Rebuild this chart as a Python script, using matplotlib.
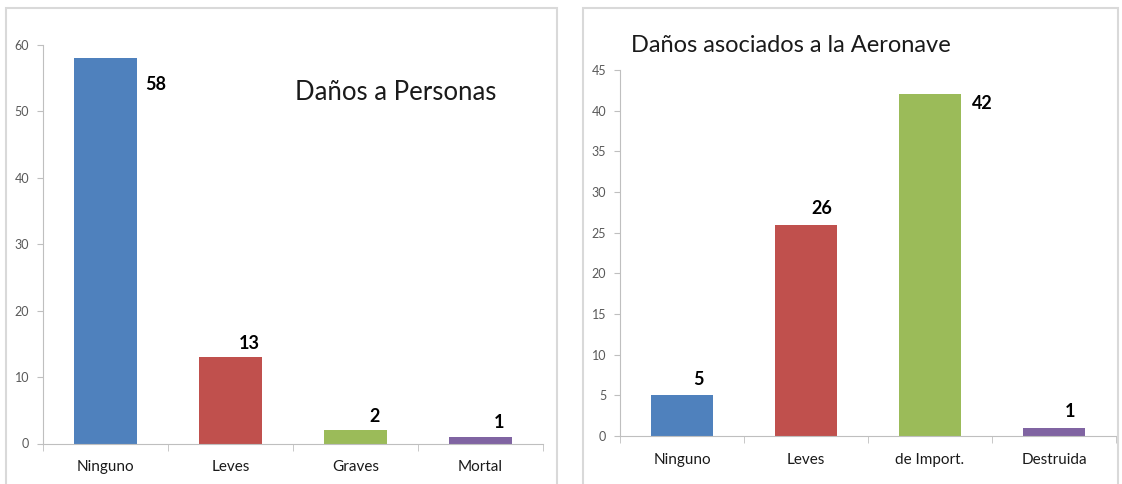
import matplotlib.pyplot as plt
from matplotlib.patches import Rectangle

plt.rcParams['font.family'] = ['Lato', 'DejaVu Sans']

# data
personas_cats = ['Ninguno', 'Leves', 'Graves', 'Mortal']
personas_vals = [58, 13, 2, 1]
aeronave_cats = ['Ninguno', 'Leves', 'de Import.', 'Destruida']
aeronave_vals = [5, 26, 42, 1]
colors = ['#4F81BD', '#C0504D', '#9BBB59', '#8064A2']

fig = plt.figure(figsize=(11.22, 4.84), dpi=100)
W, H = 1122, 484
PX = 0.72  # points per pixel at dpi 100

# panel frames
for x0, x1 in [(6, 557), (583, 1118)]:
    fig.patches.append(Rectangle((x0 / W, -0.01), (x1 - x0) / W, 1.01 - 8 / H,
                                 transform=fig.transFigure, fill=False,
                                 edgecolor='#d9d9d9', linewidth=1.5))


def style_axes(ax, cats, vals, ymax, step):
    ax.bar(range(len(vals)), vals, width=0.5, color=colors, zorder=2)
    ax.set_xlim(-0.5, len(vals) - 0.5)
    ax.set_ylim(0, ymax)
    ax.set_yticks(range(0, ymax + 1, step))
    ax.set_xticks(range(len(cats)))
    ax.set_xticklabels(cats, fontsize=11, color='#1a1a1a')
    ax.set_xticks([i - 0.5 for i in range(len(cats) + 1)], minor=True)
    ax.tick_params(axis='x', which='major', length=0, pad=12)
    ax.tick_params(axis='x', which='minor', length=5, color='#bfbfbf')
    ax.tick_params(axis='y', labelsize=9, labelcolor='#595959', color='#bfbfbf',
                   length=4, pad=6)
    for s in ['top', 'right']:
        ax.spines[s].set_visible(False)
    for s in ['left', 'bottom']:
        ax.spines[s].set_color('#bfbfbf')


def label_bars(ax, vals, small_off, max_off):
    for i, v in enumerate(vals):
        off = max_off if v == max(vals) else small_off
        ax.annotate(str(v), (i, v), xytext=(off[0] * PX, off[1] * PX),
                    textcoords='offset points', fontsize=13, fontweight='bold',
                    ha='center', va='center')


ax1 = fig.add_axes([43 / W, 1 - 443.5 / H, 500 / W, (443.5 - 45) / H])
style_axes(ax1, personas_cats, personas_vals, 60, 10)
label_bars(ax1, personas_vals, (19, 14), (50, -26))
fig.text(396 / W, 1 - 92 / H, 'Daños a Personas', fontsize=18.5,
         ha='center', va='center', color='#1a1a1a')

ax2 = fig.add_axes([620 / W, 1 - 436 / H, 496 / W, (436 - 70) / H])
style_axes(ax2, aeronave_cats, aeronave_vals, 45, 5)
label_bars(ax2, aeronave_vals, (16, 16), (52, -9))
fig.text(631 / W, 1 - 45 / H, 'Daños asociados a la Aeronave', fontsize=17,
         ha='left', va='center', color='#1a1a1a')

fig.savefig('out.png', dpi=100)
